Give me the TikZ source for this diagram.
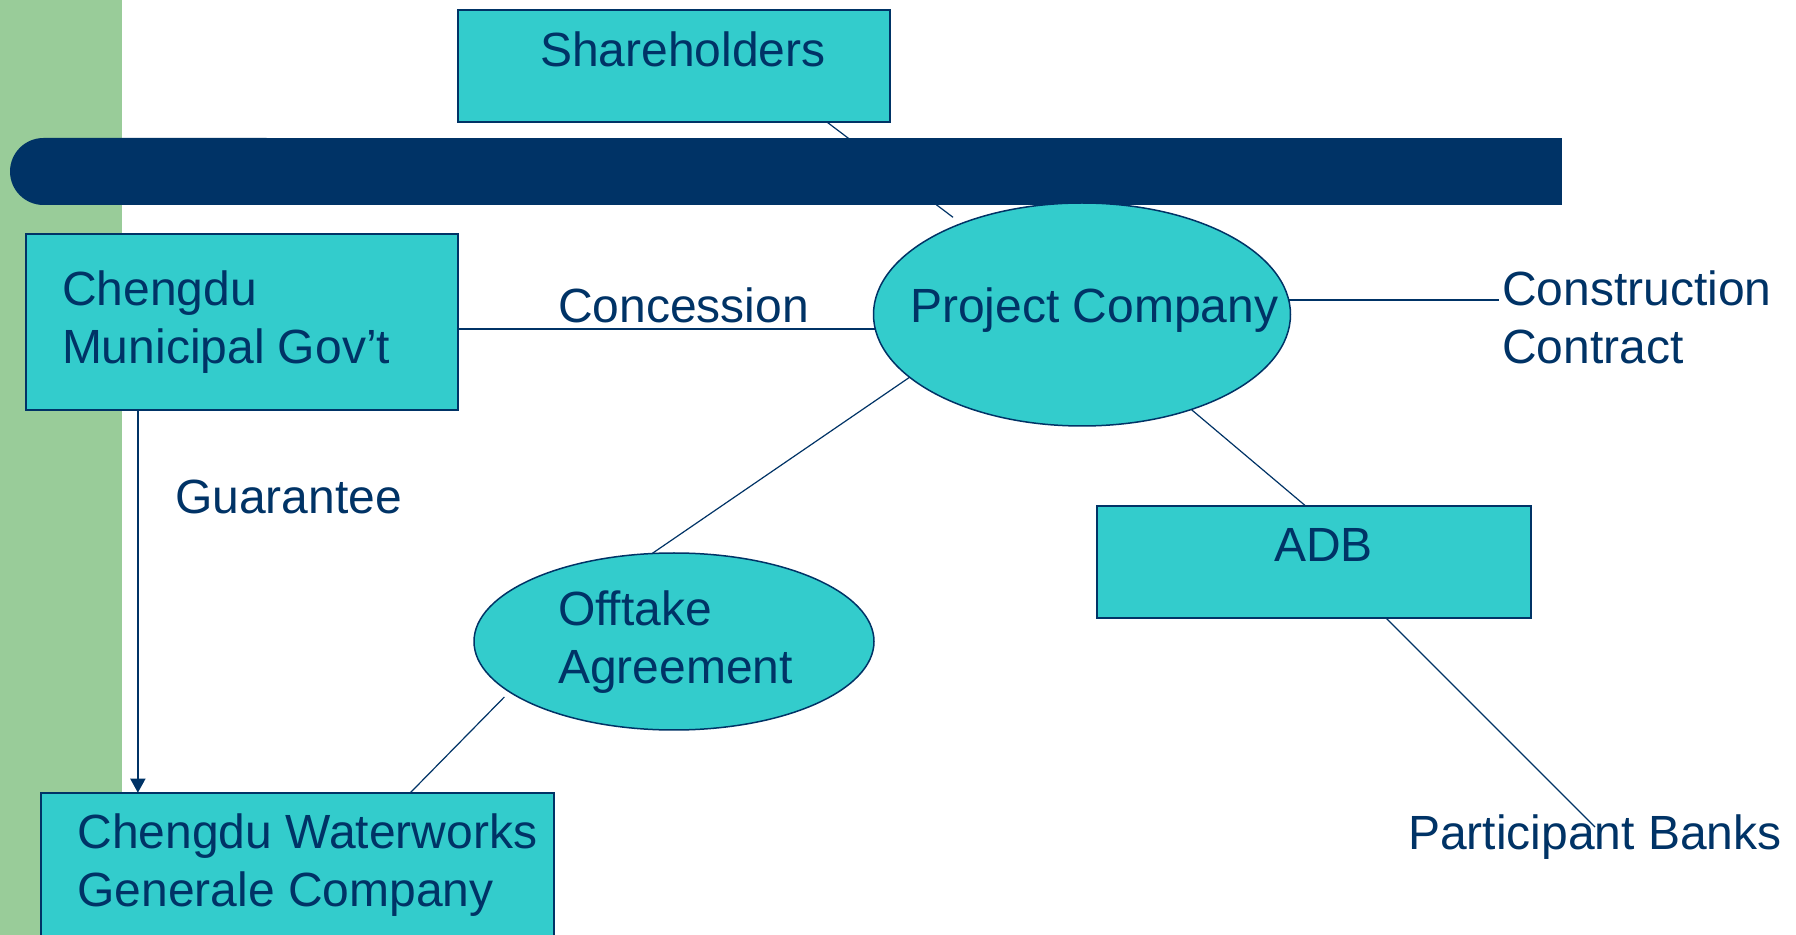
\documentclass[tikz,border=0pt]{standalone}
\usepackage{fontspec}
\setmainfont{Liberation Sans}
\usetikzlibrary{calc,arrows.meta,shapes.geometric}
\definecolor{tealfill}{HTML}{33CCCC}
\definecolor{navy}{HTML}{003366}
\definecolor{leaf}{HTML}{99CC99}
\pgfdeclarelayer{bgl}
\pgfdeclarelayer{connl}
\pgfdeclarelayer{barl}
\pgfsetlayers{bgl,connl,barl,main}
\newcommand\twoln[2]{\vtop{\hbox{#1}\hbox{#2}}}
\begin{document}
\begin{tikzpicture}[x=0.5pt,y=-0.5pt,
  box/.style={draw=navy, line width=1pt, fill=tealfill, rectangle, inner sep=0pt, outer sep=0pt},
  oval/.style={draw=navy, line width=0.75pt, fill=tealfill, ellipse, inner sep=0pt, outer sep=0pt},
  txt/.style={text=navy, font=\fontsize{24}{29}\selectfont, inner sep=0pt, outer sep=0pt, anchor=base west},
  link/.style={draw=navy, line width=0.6pt},
  heavy/.style={draw=navy, line width=1pt},
  guar/.style={draw=navy, line width=0.8pt, -{Triangle[length=7pt,width=7.5pt]}}]
\useasboundingbox (0,0) rectangle (1796,935);
\clip (0,0) rectangle (1796,935);

% boxes and ovals
\node[box, minimum width=216.25pt, minimum height=56pt] (sh) at (673.75,66) {};
\node[box, minimum width=216pt, minimum height=88pt] (cmg) at (242,322) {};
\node[box, minimum width=216.65pt, minimum height=56.15pt] (adb) at (1314,561.85) {};
\node[box, minimum width=256.5pt, minimum height=90pt, anchor=north] (ww) at (297.5,792.7) {};
\node[oval, minimum width=208.5pt, minimum height=111.5pt] (pc) at (1082,314.5) {};
\node[oval, minimum width=200pt, minimum height=88.5pt] (off) at (674,641.5) {};

% texts
\node[txt] (shT) at (540,66.5) {Shareholders};
\node[txt] (cmgT) at (62,305.5) {\twoln{Chengdu}{Municipal Gov’t}};
\node[txt] (pcT) at (910,322.5) {Project Company};
\node[txt] (concT) at (558,322.5) {Concession};
\node[txt] (consT) at (1502,305.5) {\twoln{Construction}{Contract}};
\node[txt] (guarT) at (175,513.5) {Guarantee};
\node[txt] (offT) at (558,625.5) {\twoln{Offtake}{Agreement}};
\node[txt] (adbT) at (1274,561.5) {ADB};
\node[txt] (wwT) at (77.5,848.5) {\twoln{Chengdu Waterworks}{Generale Company}};
\node[txt] (pbT) at (1408,849.5) {Participant Banks};

\coordinate (ccend) at (1499,298);
\coordinate (pbend) at (1595,827);

\begin{pgfonlayer}{bgl}
\fill[white] (0,0) rectangle (1796,935);
\fill[leaf] (0,0) rectangle (122,935);
\end{pgfonlayer}

\begin{pgfonlayer}{barl}
\fill[navy, rounded corners=16.75pt] (10,138) rectangle (300,205);
\fill[navy] (150,138) rectangle (1562,205);
\end{pgfonlayer}

\begin{pgfonlayer}{connl}
\draw[link, shorten >=5.2pt] ($(sh.south west)!0.854!(sh.south east)$) -- (pc.143);
\draw[heavy] (pc.184 -| cmg.east) -- (pc.184);
\draw[heavy] (pc.4.5) -- (pc.4.5 -| ccend);
\draw[link] (pc.200) -- (off.104);
\draw[link] (pc.319.5) -- ($(adb.north west)!0.48!(adb.north east)$);
\draw[link, shorten >=3.6pt] ($(ww.north west)!0.72!(ww.north east)$) -- (off.197.5);
\draw[link] ($(adb.south west)!0.666!(adb.south east)$) -- (pbend);
\coordinate (gtop) at ($(cmg.south west)!0.259!(cmg.south east)$);
\draw[guar] (gtop) -- (gtop |- ww.north);
\end{pgfonlayer}
\end{tikzpicture}
\end{document}
